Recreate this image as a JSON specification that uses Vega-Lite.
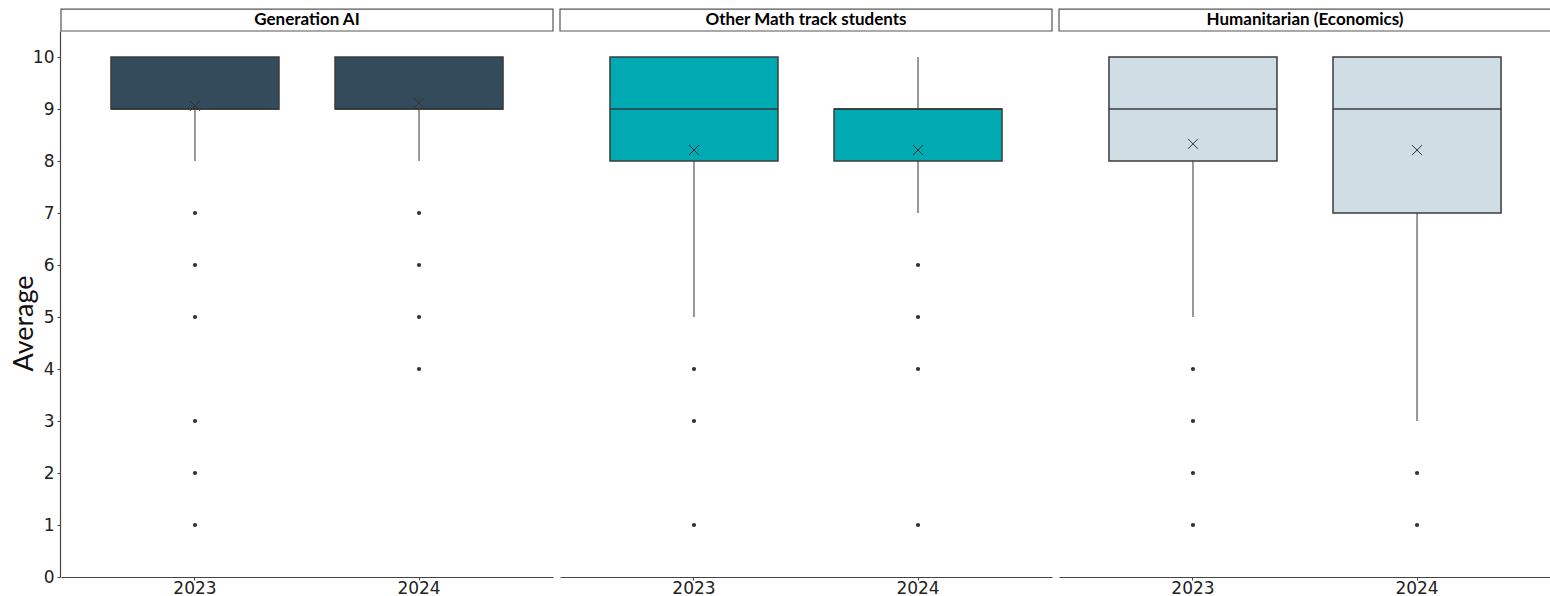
{
  "$schema": "https://vega.github.io/schema/vega-lite/v6.json",
  "padding": {"left": 10, "top": 8, "right": 0, "bottom": 0},
  "background": "white",
  "config": {
    "view": {"stroke": null},
    "axis": {"grid": false, "domainColor": "#444444", "tickColor": "#444444", "domainWidth": 1.2, "tickSize": 3, "labelFont": "DejaVu Sans", "labelColor": "#222222"}
  },
  "data": {
    "values": [
      {"panel": "Generation AI", "year": "2023", "kind": "box", "q1": 9, "median": 9, "q3": 10, "low": 8, "high": 10, "mean": 9.06},
      {"panel": "Generation AI", "year": "2024", "kind": "box", "q1": 9, "median": 9, "q3": 10, "low": 8, "high": 10, "mean": 9.12},
      {"panel": "Other Math track students", "year": "2023", "kind": "box", "q1": 8, "median": 9, "q3": 10, "low": 5, "high": 10, "mean": 8.21},
      {"panel": "Other Math track students", "year": "2024", "kind": "box", "q1": 8, "median": 9, "q3": 9, "low": 7, "high": 10, "mean": 8.21},
      {"panel": "Humanitarian  (Economics)", "year": "2023", "kind": "box", "q1": 8, "median": 9, "q3": 10, "low": 5, "high": 10, "mean": 8.33},
      {"panel": "Humanitarian  (Economics)", "year": "2024", "kind": "box", "q1": 7, "median": 9, "q3": 10, "low": 3, "high": 10, "mean": 8.21},
      {"panel": "Generation AI", "year": "2023", "kind": "outlier", "value": 7},
      {"panel": "Generation AI", "year": "2023", "kind": "outlier", "value": 6},
      {"panel": "Generation AI", "year": "2023", "kind": "outlier", "value": 5},
      {"panel": "Generation AI", "year": "2023", "kind": "outlier", "value": 3},
      {"panel": "Generation AI", "year": "2023", "kind": "outlier", "value": 2},
      {"panel": "Generation AI", "year": "2023", "kind": "outlier", "value": 1},
      {"panel": "Generation AI", "year": "2024", "kind": "outlier", "value": 7},
      {"panel": "Generation AI", "year": "2024", "kind": "outlier", "value": 6},
      {"panel": "Generation AI", "year": "2024", "kind": "outlier", "value": 5},
      {"panel": "Generation AI", "year": "2024", "kind": "outlier", "value": 4},
      {"panel": "Other Math track students", "year": "2023", "kind": "outlier", "value": 4},
      {"panel": "Other Math track students", "year": "2023", "kind": "outlier", "value": 3},
      {"panel": "Other Math track students", "year": "2023", "kind": "outlier", "value": 1},
      {"panel": "Other Math track students", "year": "2024", "kind": "outlier", "value": 6},
      {"panel": "Other Math track students", "year": "2024", "kind": "outlier", "value": 5},
      {"panel": "Other Math track students", "year": "2024", "kind": "outlier", "value": 4},
      {"panel": "Other Math track students", "year": "2024", "kind": "outlier", "value": 1},
      {"panel": "Humanitarian  (Economics)", "year": "2023", "kind": "outlier", "value": 4},
      {"panel": "Humanitarian  (Economics)", "year": "2023", "kind": "outlier", "value": 3},
      {"panel": "Humanitarian  (Economics)", "year": "2023", "kind": "outlier", "value": 2},
      {"panel": "Humanitarian  (Economics)", "year": "2023", "kind": "outlier", "value": 1},
      {"panel": "Humanitarian  (Economics)", "year": "2024", "kind": "outlier", "value": 2},
      {"panel": "Humanitarian  (Economics)", "year": "2024", "kind": "outlier", "value": 1}
    ]
  },
  "facet": {
    "column": {
      "field": "panel",
      "type": "nominal",
      "sort": ["Generation AI", "Other Math track students", "Humanitarian  (Economics)"],
      "header": {"title": null, "labels": false}
    }
  },
  "spacing": {"column": 5},
  "spec": {
    "width": 492,
    "height": 546,
    "encoding": {
      "x": {
        "field": "year",
        "type": "ordinal",
        "scale": {"paddingInner": 0.25, "paddingOuter": 0.223},
        "axis": {"title": null, "labelAngle": 0, "labelFontSize": 17, "labelPadding": 0}
      }
    },
    "layer": [
      {
        "transform": [{"filter": "datum.kind === 'box'"}],
        "mark": {"type": "rule", "color": "#555555", "strokeWidth": 1.2},
        "encoding": {
          "y": {
            "field": "low",
            "type": "quantitative",
            "scale": {"domain": [0, 10.5], "nice": false},
            "axis": {"title": "Average", "titleFont": "Lato", "titleFontWeight": "normal", "titleFontSize": 27, "titleColor": "#111111", "titlePadding": -6, "titleY": 292, "values": [0, 1, 2, 3, 4, 5, 6, 7, 8, 9, 10], "labelFontSize": 17, "labelPadding": 3}
          },
          "y2": {"field": "high"}
        }
      },
      {
        "transform": [{"filter": "datum.kind === 'box'"}],
        "mark": {"type": "bar", "stroke": "#3c3c3c", "strokeWidth": 1.5},
        "encoding": {
          "y": {"field": "q1", "type": "quantitative"},
          "y2": {"field": "q3"},
          "color": {
            "field": "panel",
            "type": "nominal",
            "scale": {
              "domain": ["Generation AI", "Other Math track students", "Humanitarian  (Economics)"],
              "range": ["#344b5b", "#00aab3", "#cfdde4"]
            },
            "legend": null
          }
        }
      },
      {
        "transform": [{"filter": "datum.kind === 'box'"}],
        "mark": {"type": "tick", "color": "#333333", "size": 168, "thickness": 2},
        "encoding": {"y": {"field": "median", "type": "quantitative"}}
      },
      {
        "transform": [{"filter": "datum.kind === 'box'"}],
        "mark": {"type": "point", "shape": "M-1,-1L1,1M-1,1L1,-1", "filled": false, "stroke": "#333333", "strokeWidth": 1, "size": 100, "opacity": 1},
        "encoding": {"y": {"field": "mean", "type": "quantitative"}}
      },
      {
        "transform": [{"filter": "datum.kind === 'outlier'"}],
        "mark": {"type": "circle", "color": "#333333", "size": 18, "opacity": 1},
        "encoding": {"y": {"field": "value", "type": "quantitative"}}
      },
      {
        "transform": [{"filter": "datum.kind === 'box' && datum.year === '2023'"}],
        "mark": {"type": "rect", "x": 0, "x2": {"expr": "child_width"}, "fill": "white", "stroke": "#555555", "strokeWidth": 1.2},
        "encoding": {"x": null, "y": {"datum": 10.5}, "y2": {"datum": 10.92}}
      },
      {
        "transform": [{"filter": "datum.kind === 'box' && datum.year === '2023'"}],
        "mark": {"type": "text", "x": {"expr": "child_width / 2"}, "font": "Lato", "fontWeight": "bold", "fontSize": 17, "color": "#000000", "baseline": "middle", "align": "center"},
        "encoding": {"x": null, "y": {"datum": 10.71}, "text": {"field": "panel"}}
      }
    ]
  }
}
